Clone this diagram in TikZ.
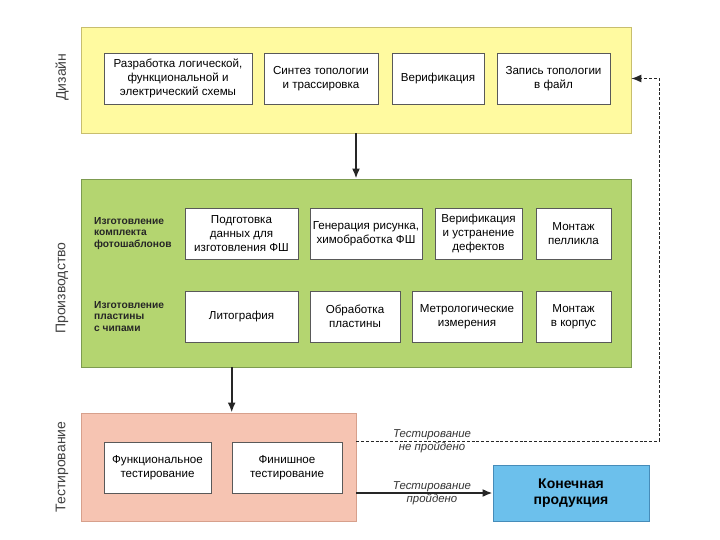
\documentclass[tikz,border=0pt]{standalone}
\usepackage{fontspec}
\setmainfont{Liberation Sans}
\usepackage{tikz}
\usetikzlibrary{calc,arrows.meta}

\definecolor{dyellow}{RGB}{255,250,160}
\definecolor{dyellowb}{RGB}{200,190,110}
\definecolor{pgreen}{RGB}{180,213,112}
\definecolor{pgreenb}{RGB}{125,155,80}
\definecolor{tpink}{RGB}{246,196,178}
\definecolor{tpinkb}{RGB}{215,160,140}
\definecolor{fblue}{RGB}{108,192,236}
\definecolor{fblueb}{RGB}{70,140,185}

\begin{document}
\begin{tikzpicture}[x=1pt,y=-1pt,
    panel/.style={draw=#1, line width=0.8pt, inner sep=0pt},
    stage/.style={draw=black!65, fill=white, line width=0.6pt, inner sep=1pt,
                  align=center, font=\fontsize{11.6}{14}\selectfont},
    sidelabel/.style={rotate=90, font=\fontsize{14}{16}\selectfont, text=black!75},
    rowlabel/.style={anchor=west, align=left, inner sep=0pt,
                     font=\fontsize{10.2}{11.8}\selectfont\bfseries, text=black!85},
    flow/.style={-{Latex[length=10pt,width=8pt]}, line width=2pt, black!85},
    back/.style={dash pattern=on 3pt off 1.8pt, line width=1pt, black!85},
    verdict/.style={align=center, inner sep=0pt,
                    font=\fontsize{11.4}{13}\selectfont\itshape, text=black!80}]
  \useasboundingbox (0,0) rectangle (720,540);

  % panels
  \node[panel=dyellowb, fill=dyellow, minimum width=550pt, minimum height=106pt] (design) at (356,80) {};
  \node[panel=pgreenb, fill=pgreen, minimum width=550pt, minimum height=188pt] (prod) at (356,273) {};
  \node[panel=tpinkb, fill=tpink, minimum width=275pt, minimum height=108pt] (test) at (218.5,467) {};
  \node[panel=fblueb, fill=fblue, minimum width=156pt, minimum height=56pt,
        align=center, font=\fontsize{14}{16}\selectfont\bfseries] (final) at (571,493) {Конечная\\продукция};

  \node[sidelabel] (ldesign) at (62,77) {Дизайн};
  \node[sidelabel] (lprod) at (62,288) {Производство};
  \node[sidelabel] (ltest) at (62,467) {Тестирование};

  % design
  \node[stage, minimum width=148pt, minimum height=51pt] (d1) at (178,78.5) {Разработка логической,\\функциональной и\\электрический схемы};
  \node[stage, minimum width=114pt, minimum height=51pt] (d2) at (321,78.5) {Синтез топологии\\и трассировка};
  \node[stage, minimum width=92pt, minimum height=51pt] (d3) at (438,78.5) {Верификация};
  \node[stage, minimum width=113pt, minimum height=51pt] (d4) at (553.5,78.5) {Запись топологии\\в файл};

  % production
  \node[rowlabel] (lmask) at (94,233.5) {Изготовление\\комплекта\\фотошаблонов};
  \node[rowlabel] (lwafer) at (94,316.5) {Изготовление\\пластины\\с чипами};
  \node[stage, minimum width=113pt, minimum height=51pt] (p1) at (241.5,233.5) {Подготовка\\данных для\\изготовления ФШ};
  \node[stage, minimum width=112pt, minimum height=51pt] (p2) at (366,233.5) {Генерация рисунка,\\химобработка ФШ};
  \node[stage, minimum width=87pt, minimum height=51pt] (p3) at (478.5,233.5) {Верификация\\и устранение\\дефектов};
  \node[stage, minimum width=75pt, minimum height=51pt] (p4) at (573.5,233.5) {Монтаж\\пелликла};
  \node[stage, minimum width=113pt, minimum height=51pt] (q1) at (241.5,316.5) {Литография};
  \node[stage, minimum width=90pt, minimum height=51pt] (q2) at (355,316.5) {Обработка\\пластины};
  \node[stage, minimum width=110pt, minimum height=51pt] (q3) at (467,316.5) {Метрологические\\измерения};
  \node[stage, minimum width=75pt, minimum height=51pt] (q4) at (573.5,316.5) {Монтаж\\в корпус};

  % testing
  \node[stage, minimum width=107pt, minimum height=51pt] (t1) at (157.5,467.5) {Функциональное\\тестирование};
  \node[stage, minimum width=110pt, minimum height=51pt] (t2) at (287,467.5) {Финишное\\тестирование};

  % connectors
  \draw[flow] (design.south) -- (prod.north);
  \draw[flow] (prod.south -| t2.west) -- (test.north -| t2.west);
  \draw[flow] (test.east |- final.west) -- (final.west)
        node[verdict, pos=0.555] {Тестирование\\пройдено};
  \coordinate (turn) at (659,441);
  \draw[back] (test.east |- turn) -- (turn)
        node[verdict, pos=0.25] {Тестирование\\не пройдено};
  \draw[back, -{Latex[length=10pt,width=8pt]}] (turn) |- (design.east |- d4.center);
\end{tikzpicture}
\end{document}
